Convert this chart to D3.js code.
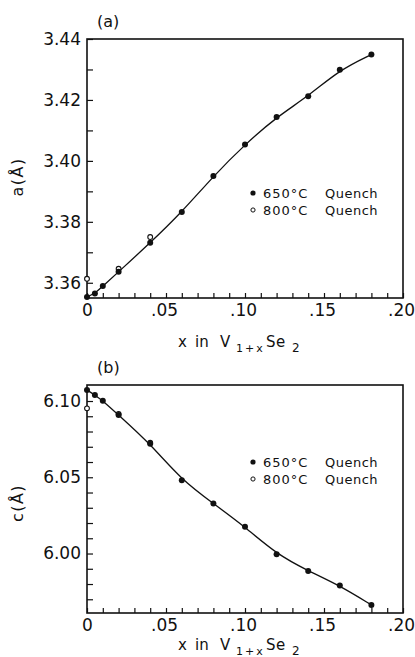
<!DOCTYPE html>
<html>
<head>
<meta charset="utf-8">
<script src="https://cdn.jsdelivr.net/npm/d3@7"></script>
<style>
  body { margin: 0; background: #fff; }
  svg { display: block; }
  text { font-family: "DejaVu Sans", sans-serif; fill: #111; }
</style>
</head>
<body>
<svg width="415" height="657"></svg>
<script>
// composition x in V(1+x)Se2
const xs650 = [0, 0.005, 0.01, 0.02, 0.04, 0.06, 0.08, 0.10, 0.12, 0.14, 0.16, 0.18];
const xs800 = [0, 0.02, 0.04];

// lattice parameter a (Å)
const a650 = [3.3553, 3.3565, 3.3589, 3.3636, 3.3731, 3.3832, 3.3950, 3.4054, 3.4144, 3.4212, 3.4299, 3.4349];
const a800 = [3.3613, 3.3646, 3.3750];

// lattice parameter c (Å)
const c650 = [6.1072, 6.1039, 6.1002, 6.0908, 6.0720, 6.0481, 6.0328, 6.0175, 5.9996, 5.9886, 5.9790, 5.9663];
const c800 = [6.0952, 6.0915, 6.0726];

const xTickVals = d3.range(0, 21).map(i => i / 100);
const aTickVals = d3.range(336, 345).map(i => i / 100);
const cTickVals = d3.range(597, 611).map(i => i / 100);

const svg = d3.select("svg");
const left = 87, right = 403;

function drawPanel(p) {
    const x = d3.scaleLinear().domain([0, 0.2]).range([left, right]);
    const y = d3.scaleLinear().domain(p.domain).range([p.bottom, p.top]);
    const g = svg.append("g");

    // x axis, ticks pointing inward
    const xAxis = d3.axisBottom(x)
        .tickValues(xTickVals)
        .tickSize(-5)
        .tickFormat(d => {
            const i = Math.round(d * 100);
            if (i % 5) return "";
            return i === 0 ? "0" : "." + String(i).padStart(2, "0");
        });
    g.append("g")
        .attr("transform", `translate(0,${p.bottom})`)
        .call(xAxis)
        .call(s => s.select(".domain").remove())
        .call(s => s.selectAll("line").attr("stroke", "#111").attr("stroke-width", 1.2))
        .call(s => s.selectAll("text").attr("y", 18).attr("dy", 0)
            .attr("dx", d => d === 0 ? 0 : -2)
            .attr("font-size", 17).style("font-family", "DejaVu Sans").attr("fill", "#111"));

    const yAxis = d3.axisLeft(y)
        .tickValues(p.yTicks)
        .tickSize(-6)
        .tickPadding(6)
        .tickFormat(p.yFormat);
    g.append("g")
        .attr("transform", `translate(${left},0)`)
        .call(yAxis)
        .call(s => s.select(".domain").remove())
        .call(s => s.selectAll("line").attr("stroke", "#111").attr("stroke-width", 1.2))
        .call(s => s.selectAll("text").attr("font-size", 17)
            .style("font-family", "DejaVu Sans").attr("fill", "#111"));

    // frame
    g.append("rect")
        .attr("x", left).attr("y", p.top)
        .attr("width", right - left).attr("height", p.bottom - p.top)
        .attr("fill", "none").attr("stroke", "#111").attr("stroke-width", 1.6);

    // smooth curve through the 650°C points
    const pts650 = xs650.map((v, i) => [v, p.v650[i]]);
    const line = d3.line()
        .x(d => x(d[0]))
        .y(d => y(d[1]))
        .curve(d3.curveBasis);
    g.append("path")
        .datum(pts650)
        .attr("d", line)
        .attr("fill", "none")
        .attr("stroke", "#111")
        .attr("stroke-width", 1.3);

    g.selectAll(".open")
        .data(xs800.map((v, i) => [v, p.v800[i]]))
        .join("circle")
        .attr("cx", d => x(d[0])).attr("cy", d => y(d[1]))
        .attr("r", 2.4)
        .attr("fill", "#fff").attr("stroke", "#111").attr("stroke-width", 1.1);

    g.selectAll(".filled")
        .data(pts650)
        .join("circle")
        .attr("cx", d => x(d[0])).attr("cy", d => y(d[1]))
        .attr("r", 3)
        .attr("fill", "#111");

    // panel letter
    g.append("text")
        .attr("x", left + 10).attr("y", p.top - 12)
        .attr("font-size", 16)
        .text(p.letter);

    // y title
    g.append("text")
        .attr("transform", `translate(23,${p.yTitleY}) rotate(-90)`)
        .attr("text-anchor", "middle")
        .attr("font-size", 16)
        .attr("letter-spacing", 1.5)
        .text(p.yTitle);

    // x title
    const t = g.append("text")
        .attr("y", p.bottom + p.xTitleGap)
        .attr("font-size", 15);
    t.append("tspan").attr("x", 178).text("x");
    t.append("tspan").attr("x", 195).text("in");
    t.append("tspan").attr("x", 220).text("V");
    t.append("tspan").attr("x", 236).attr("dy", 5).attr("font-size", 11).attr("letter-spacing", 2).text("1+x");
    t.append("tspan").attr("x", 266).attr("dy", -5).attr("letter-spacing", 0.5).text("Se");
    t.append("tspan").attr("x", 292).attr("dy", 5).attr("font-size", 12).text("2");

    // legend
    const lg = g.append("g").attr("transform", `translate(253,${p.legendY})`);
    lg.append("circle").attr("cx", 0).attr("cy", 0).attr("r", 2.6).attr("fill", "#111");
    lg.append("circle").attr("cx", 0).attr("cy", 17).attr("r", 2.1)
        .attr("fill", "#fff").attr("stroke", "#111").attr("stroke-width", 1);
    ["650°C", "800°C"].forEach((lab, i) => {
        const tx = lg.append("text").attr("y", 5 + i * 17).attr("font-size", 13).attr("letter-spacing", 1);
        tx.append("tspan").attr("x", 10).text(lab);
        tx.append("tspan").attr("x", 72).attr("letter-spacing", 0.5).text("Quench");
    });
}

drawPanel({
    top: 39, bottom: 298,
    domain: [3.355, 3.44],
    yTicks: aTickVals,
    yFormat: d => Math.round(d * 100) % 2 === 0 ? d3.format(".2f")(d) : "",
    v650: a650, v800: a800,
    letter: "(a)", yTitle: "a(Å)", yTitleY: 177,
    xTitleGap: 49, legendY: 193
});

drawPanel({
    top: 385, bottom: 613,
    domain: [5.961, 6.1105],
    yTicks: cTickVals,
    yFormat: d => Math.round(d * 100) % 5 === 0 ? d3.format(".2f")(d) : "",
    v650: c650, v800: c800,
    letter: "(b)", yTitle: "c(Å)", yTitleY: 503,
    xTitleGap: 37, legendY: 462
});
</script>
</body>
</html>
